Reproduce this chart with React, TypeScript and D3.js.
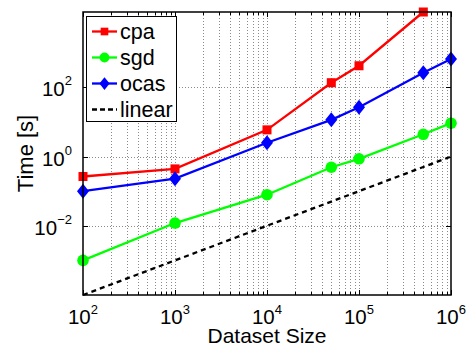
import React, { useEffect, useRef } from "react";
import * as d3 from "d3";

// dataset sizes (x) and times in seconds (y)
const sizes = [1e2, 1e3, 1e4, 5e4, 1e5, 5e5, 1e6];
const cpaTimes = [0.265, 0.44, 5.9, 136, 420, 15000];
const sgdTimes = [0.001, 0.012, 0.079, 0.49, 0.86, 4.4, 9.2];
const ocasTimes = [0.1, 0.23, 2.5, 11.5, 26.6, 265, 660];
const linearTimes = [1e-4, 1e-3, 1e-2, 5e-2, 1e-1, 5e-1, 1];

const xTicks = [1e2, 1e3, 1e4, 1e5, 1e6];
const yTicks = [1e-2, 1, 1e2];
const yDomain = [1e-4, 1.5e4];

const W = 467;
const H = 347;
const margin = { left: 83, top: 12, right: 16, bottom: 52 };

const App = () => {
  const ref = useRef<SVGSVGElement>(null);

  useEffect(() => {
    const svg = d3.select(ref.current);
    svg.selectAll("*").remove();

    const x0 = margin.left;
    const x1 = W - margin.right;
    const y0 = H - margin.bottom;
    const y1 = margin.top;

    const x = d3.scaleLog().domain([xTicks[0], xTicks[xTicks.length - 1]]).range([x0, x1]);
    const y = d3.scaleLog().domain(yDomain).range([y0, y1]);

    // minor x positions 2..9 x 10^k
    const minor: number[] = [];
    for (let k = 2; k < 6; k++) {
      for (let m = 2; m <= 9; m++) minor.push(m * Math.pow(10, k));
    }

    const grid = svg.append("g")
      .attr("stroke", "#8a8a8a")
      .attr("stroke-width", 1)
      .attr("stroke-dasharray", "1,2");

    grid.selectAll("line.vx")
      .data(minor.concat(xTicks.slice(1, -1)))
      .enter()
      .append("line")
      .attr("x1", d => Math.round(x(d)) + 0.5)
      .attr("x2", d => Math.round(x(d)) + 0.5)
      .attr("y1", y0)
      .attr("y2", y1);

    grid.selectAll("line.hy")
      .data(yTicks)
      .enter()
      .append("line")
      .attr("y1", d => Math.round(y(d)) + 0.5)
      .attr("y2", d => Math.round(y(d)) + 0.5)
      .attr("x1", x0)
      .attr("x2", x1);

    // tick marks, inside, on all four sides
    const ticks = svg.append("g").attr("stroke", "#000").attr("stroke-width", 1);
    const tickX = (vals: number[], len: number) => {
      vals.forEach(v => {
        const px = Math.round(x(v)) + 0.5;
        ticks.append("line").attr("x1", px).attr("x2", px).attr("y1", y0).attr("y2", y0 - len);
        ticks.append("line").attr("x1", px).attr("x2", px).attr("y1", y1).attr("y2", y1 + len);
      });
    };
    tickX(xTicks, 5);
    tickX(minor, 3);
    yTicks.forEach(v => {
      const py = Math.round(y(v)) + 0.5;
      ticks.append("line").attr("x1", x0).attr("x2", x0 + 5).attr("y1", py).attr("y2", py);
      ticks.append("line").attr("x1", x1).attr("x2", x1 - 5).attr("y1", py).attr("y2", py);
    });

    // series
    const line = d3.line<[number, number]>()
      .x(d => x(d[0]))
      .y(d => y(d[1]));

    const plot = svg.append("g");

    plot.append("path")
      .datum(sizes.map((s, i) => [s, linearTimes[i]] as [number, number]))
      .attr("d", line)
      .attr("fill", "none")
      .attr("stroke", "#000")
      .attr("stroke-width", 2.3)
      .attr("stroke-dasharray", "5,4");

    const series = [
      { vals: cpaTimes, color: "#ff0000", marker: "square" },
      { vals: sgdTimes, color: "#00ff00", marker: "circle" },
      { vals: ocasTimes, color: "#0000ff", marker: "diamond" },
    ];

    const drawMarker = (g: any, marker: string, cx: number, cy: number, color: string, k = 1) => {
      if (marker === "square") {
        g.append("rect").attr("x", cx - 4.5 * k).attr("y", cy - 4.5 * k)
          .attr("width", 9 * k).attr("height", 9 * k).attr("fill", color);
      } else if (marker === "circle") {
        g.append("circle").attr("cx", cx).attr("cy", cy).attr("r", 5.8 * k).attr("fill", color);
      } else {
        g.append("path")
          .attr("d", `M${cx},${cy - 7.5 * k}L${cx + 6 * k},${cy}L${cx},${cy + 7.5 * k}L${cx - 6 * k},${cy}Z`)
          .attr("fill", color);
      }
    };

    series.forEach(s => {
      const pts = s.vals.map((v, i) => [sizes[i], v] as [number, number]);
      plot.append("path")
        .datum(pts)
        .attr("d", line)
        .attr("fill", "none")
        .attr("stroke", s.color)
        .attr("stroke-width", 2.3);
      pts.forEach(p => drawMarker(plot, s.marker, x(p[0]), y(p[1]), s.color));
    });

    // axes box
    svg.append("rect")
      .attr("x", x0)
      .attr("y", y1)
      .attr("width", x1 - x0)
      .attr("height", y0 - y1)
      .attr("fill", "none")
      .attr("stroke", "#000")
      .attr("stroke-width", 1.5);

    const font = "'Liberation Sans', Arial, sans-serif";

    // x tick labels
    xTicks.forEach(v => {
      const t = svg.append("text")
        .attr("x", x(v))
        .attr("y", y0 + 29)
        .attr("text-anchor", "middle")
        .attr("font-family", font)
        .attr("font-size", 20.5);
      t.append("tspan").text("10");
      t.append("tspan").attr("dy", -10).attr("font-size", 13).text(String(Math.round(Math.log10(v))));
    });

    // y tick labels
    yTicks.forEach(v => {
      const t = svg.append("text")
        .attr("x", x0 - 11)
        .attr("y", y(v) + 9)
        .attr("text-anchor", "end")
        .attr("font-family", font)
        .attr("font-size", 20.5);
      t.append("tspan").text("10");
      t.append("tspan").attr("dy", -11).attr("font-size", 13).text(String(Math.round(Math.log10(v))).replace("-", "\u2212"));
    });

    svg.append("text")
      .attr("x", (x0 + x1) / 2)
      .attr("y", H - 4)
      .attr("text-anchor", "middle")
      .attr("font-family", font)
      .attr("font-size", 21)
      .text("Dataset Size");

    svg.append("text")
      .attr("transform", `translate(33,${(y0 + y1) / 2}) rotate(-90)`)
      .attr("text-anchor", "middle")
      .attr("font-family", font)
      .attr("font-size", 22)
      .text("Time [s]");

    // legend
    const lg = svg.append("g");
    lg.append("rect")
      .attr("x", 86.5)
      .attr("y", 16.5)
      .attr("width", 90)
      .attr("height", 105)
      .attr("fill", "#fff")
      .attr("stroke", "#000")
      .attr("stroke-width", 1);

    const entries = [
      { name: "cpa", color: "#ff0000", marker: "square", dash: null },
      { name: "sgd", color: "#00ff00", marker: "circle", dash: null },
      { name: "ocas", color: "#0000ff", marker: "diamond", dash: null },
      { name: "linear", color: "#000", marker: null, dash: "5,3" },
    ];
    entries.forEach((e, i) => {
      const cy = 31.5 + i * 26;
      lg.append("line")
        .attr("x1", 92)
        .attr("x2", 117)
        .attr("y1", cy)
        .attr("y2", cy)
        .attr("stroke", e.color)
        .attr("stroke-width", 2.3)
        .attr("stroke-dasharray", e.dash);
      if (e.marker) drawMarker(lg, e.marker, 104.5, cy, e.color, 0.85);
      lg.append("text")
        .attr("x", 120)
        .attr("y", cy + 7.5)
        .attr("font-family", font)
        .attr("font-size", 21.5)
        .text(e.name);
    });
  }, []);

  return (
    <div style={{ position: "absolute", left: 0, top: 0 }}>
      <svg ref={ref} width={W} height={H} style={{ display: "block", background: "#fff" }} />
    </div>
  );
};

export default App;
